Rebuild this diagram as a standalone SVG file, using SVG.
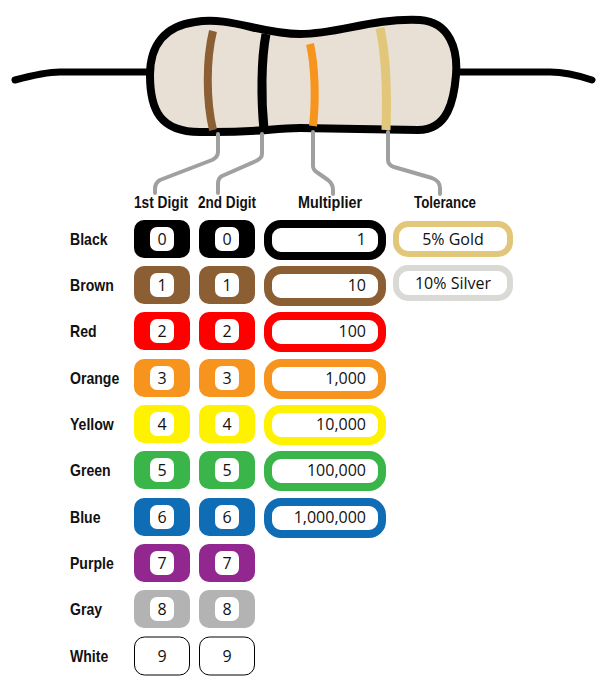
<svg xmlns="http://www.w3.org/2000/svg" width="608" height="689" viewBox="0 0 608 689">
<style>
.lbl{font-family:"Liberation Sans",Arial,sans-serif;font-weight:bold;font-size:16px;fill:#111}
.num{font-family:"Open Sans","Liberation Sans",sans-serif;font-size:16px;fill:#111}
.in{fill:#fff}
.lead{fill:none;stroke:#a0a0a0;stroke-width:4;stroke-linejoin:round;stroke-linecap:round}
</style>
<g id="resistor">
<path d="M15,80 C30,76 45,72 60,72 L150,72 M458,72 L550,72 C565,72 580,76 592,80" fill="none" stroke="#000" stroke-width="7" stroke-linecap="round"/>
<path d="M195,22 C230,16 260,34 300,34 C340,34 370,18 420,20 C450,22 458,50 456,75 C454,100 448,130 418,130 L300,128 C270,128 260,133 200,132 C160,132 150,110 150,75 C150,45 165,26 195,22 Z" fill="#e8e0d4" stroke="#000" stroke-width="8"/>
<path d="M213,31 C206,60 206,100 213,130" stroke="#8b5e34" stroke-width="8" fill="none"/>
<path d="M266,34 C261,60 261,100 264,130" stroke="#000" stroke-width="9" fill="none"/>
<path d="M310,44 C315,65 316,100 313,126" stroke="#f7941d" stroke-width="8" fill="none"/>
<path d="M380,28 C387,60 387,100 386,130" stroke="#e2c77a" stroke-width="9" fill="none"/>
</g>
<g id="connectors">
<path class="lead" d="M218,134 L218,152 Q218,157 212,160 L160,180 Q155,183 155,189 L155,193"/>
<path class="lead" d="M262,134 L262,154 Q262,158 256,161 L222,176 Q218,178 218,184 L218,193"/>
<path class="lead" d="M313,132 L313,166 Q313,170 318,173 L328,180 Q333,184 333,190 L333,194"/>
<path class="lead" d="M388,132 L388,160 Q388,165 394,167 L432,178 Q440,181 440,188 L440,194"/>
</g>
<g id="headers" class="lbl">
<text x="161" y="208" text-anchor="middle" textLength="54" lengthAdjust="spacingAndGlyphs">1st Digit</text>
<text x="227" y="208" text-anchor="middle" textLength="58" lengthAdjust="spacingAndGlyphs">2nd Digit</text>
<text x="330" y="208" text-anchor="middle" textLength="64" lengthAdjust="spacingAndGlyphs">Multiplier</text>
<text x="445" y="208" text-anchor="middle" textLength="62" lengthAdjust="spacingAndGlyphs">Tolerance</text>
</g>
<g id="names" class="lbl" transform="translate(70,0) scale(0.88,1) translate(-70,0)">
<text x="70" y="245">Black</text>
<text x="70" y="291">Brown</text>
<text x="70" y="337">Red</text>
<text x="70" y="384">Orange</text>
<text x="70" y="430">Yellow</text>
<text x="70" y="476">Green</text>
<text x="70" y="523">Blue</text>
<text x="70" y="569">Purple</text>
<text x="70" y="615">Gray</text>
<text x="70" y="662">White</text>
</g>
<g id="digits">
<g id="black"><rect x="134" y="220" width="56" height="38" rx="10" fill="#000"/><rect x="199" y="220" width="56" height="38" rx="10" fill="#000"/><rect x="150" y="227" width="24" height="24" rx="7" class="in"/><rect x="215" y="227" width="24" height="24" rx="7" class="in"/><text class="num" x="162" y="245" text-anchor="middle">0</text><text class="num" x="227" y="245" text-anchor="middle">0</text></g>
<g id="brown"><rect x="134" y="266" width="56" height="38" rx="10" fill="#8b5e34"/><rect x="199" y="266" width="56" height="38" rx="10" fill="#8b5e34"/><rect x="150" y="273" width="24" height="24" rx="7" class="in"/><rect x="215" y="273" width="24" height="24" rx="7" class="in"/><text class="num" x="162" y="291" text-anchor="middle">1</text><text class="num" x="227" y="291" text-anchor="middle">1</text></g>
<g id="red"><rect x="134" y="312" width="56" height="38" rx="10" fill="#ff0000"/><rect x="199" y="312" width="56" height="38" rx="10" fill="#ff0000"/><rect x="150" y="319" width="24" height="24" rx="7" class="in"/><rect x="215" y="319" width="24" height="24" rx="7" class="in"/><text class="num" x="162" y="337" text-anchor="middle">2</text><text class="num" x="227" y="337" text-anchor="middle">2</text></g>
<g id="orange"><rect x="134" y="359" width="56" height="38" rx="10" fill="#f7941d"/><rect x="199" y="359" width="56" height="38" rx="10" fill="#f7941d"/><rect x="150" y="366" width="24" height="24" rx="7" class="in"/><rect x="215" y="366" width="24" height="24" rx="7" class="in"/><text class="num" x="162" y="384" text-anchor="middle">3</text><text class="num" x="227" y="384" text-anchor="middle">3</text></g>
<g id="yellow"><rect x="134" y="405" width="56" height="38" rx="10" fill="#fff200"/><rect x="199" y="405" width="56" height="38" rx="10" fill="#fff200"/><rect x="150" y="412" width="24" height="24" rx="7" class="in"/><rect x="215" y="412" width="24" height="24" rx="7" class="in"/><text class="num" x="162" y="430" text-anchor="middle">4</text><text class="num" x="227" y="430" text-anchor="middle">4</text></g>
<g id="green"><rect x="134" y="451" width="56" height="38" rx="10" fill="#39b54a"/><rect x="199" y="451" width="56" height="38" rx="10" fill="#39b54a"/><rect x="150" y="458" width="24" height="24" rx="7" class="in"/><rect x="215" y="458" width="24" height="24" rx="7" class="in"/><text class="num" x="162" y="476" text-anchor="middle">5</text><text class="num" x="227" y="476" text-anchor="middle">5</text></g>
<g id="blue"><rect x="134" y="498" width="56" height="38" rx="10" fill="#0f6db5"/><rect x="199" y="498" width="56" height="38" rx="10" fill="#0f6db5"/><rect x="150" y="505" width="24" height="24" rx="7" class="in"/><rect x="215" y="505" width="24" height="24" rx="7" class="in"/><text class="num" x="162" y="523" text-anchor="middle">6</text><text class="num" x="227" y="523" text-anchor="middle">6</text></g>
<g id="purple"><rect x="134" y="544" width="56" height="38" rx="10" fill="#92278f"/><rect x="199" y="544" width="56" height="38" rx="10" fill="#92278f"/><rect x="150" y="551" width="24" height="24" rx="7" class="in"/><rect x="215" y="551" width="24" height="24" rx="7" class="in"/><text class="num" x="162" y="569" text-anchor="middle">7</text><text class="num" x="227" y="569" text-anchor="middle">7</text></g>
<g id="gray"><rect x="134" y="590" width="56" height="38" rx="10" fill="#b3b3b3"/><rect x="199" y="590" width="56" height="38" rx="10" fill="#b3b3b3"/><rect x="150" y="597" width="24" height="24" rx="7" class="in"/><rect x="215" y="597" width="24" height="24" rx="7" class="in"/><text class="num" x="162" y="615" text-anchor="middle">8</text><text class="num" x="227" y="615" text-anchor="middle">8</text></g>
<g id="white"><rect x="134.5" y="637" width="55" height="38" rx="10" fill="#fff" stroke="#000" stroke-width="1"/><rect x="199.5" y="637" width="55" height="38" rx="10" fill="#fff" stroke="#000" stroke-width="1"/><text class="num" x="162" y="662" text-anchor="middle">9</text><text class="num" x="227" y="662" text-anchor="middle">9</text></g>
</g>
<g id="multiplier">
<rect x="268" y="224" width="114" height="32" rx="13" fill="#fff" stroke="#000" stroke-width="8"/><text class="num" x="366" y="245" text-anchor="end">1</text>
<rect x="268" y="270" width="114" height="32" rx="13" fill="#fff" stroke="#8b5e34" stroke-width="8"/><text class="num" x="366" y="291" text-anchor="end">10</text>
<rect x="268" y="316" width="114" height="32" rx="13" fill="#fff" stroke="#ff0000" stroke-width="8"/><text class="num" x="366" y="337" text-anchor="end">100</text>
<rect x="268" y="363" width="114" height="32" rx="13" fill="#fff" stroke="#f7941d" stroke-width="8"/><text class="num" x="366" y="384" text-anchor="end">1,000</text>
<rect x="268" y="409" width="114" height="32" rx="13" fill="#fff" stroke="#fff200" stroke-width="8"/><text class="num" x="366" y="430" text-anchor="end">10,000</text>
<rect x="268" y="455" width="114" height="32" rx="13" fill="#fff" stroke="#39b54a" stroke-width="8"/><text class="num" x="366" y="476" text-anchor="end">100,000</text>
<rect x="268" y="502" width="114" height="32" rx="13" fill="#fff" stroke="#0f6db5" stroke-width="8"/><text class="num" x="366" y="523" text-anchor="end">1,000,000</text>
</g>
<g id="tolerance">
<rect x="396" y="224" width="114" height="30" rx="12" fill="#fff" stroke="#e2c77a" stroke-width="6"/><text class="num" x="453" y="245" text-anchor="middle">5% Gold</text>
<rect x="396" y="268" width="114" height="30" rx="12" fill="#fff" stroke="#d9d9d6" stroke-width="6"/><text class="num" x="453" y="289" text-anchor="middle">10% Silver</text>
</g>
</svg>
